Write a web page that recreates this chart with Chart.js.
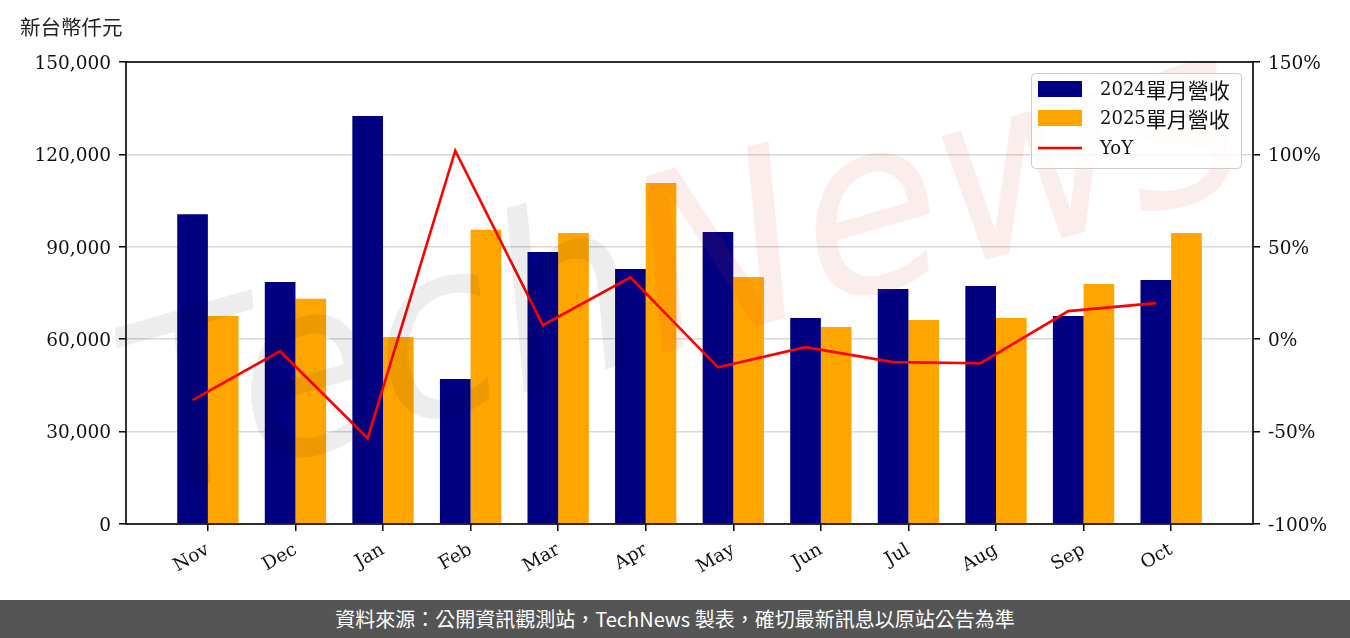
<!DOCTYPE html>
<html><head><meta charset="utf-8">
<script src="https://cdn.jsdelivr.net/npm/chart.js@4.4.1/dist/chart.umd.min.js"></script>
<style>
html,body{margin:0;padding:0;background:#fff;}
#wrap{position:relative;width:1350px;height:600px;}
#footer{width:1350px;height:38px;background:#555555;color:#fff;font-family:'Noto Sans CJK TC',sans-serif;font-size:20px;font-weight:400;text-align:center;line-height:38px;}
</style></head><body>
<div id="wrap"><canvas id="c" width="1350" height="600"></canvas></div>
<div id="footer">資料來源：公開資訊觀測站，TechNews 製表，確切最新訊息以原站公告為準</div>
<script>
const months = ['Nov','Dec','Jan','Feb','Mar','Apr','May','Jun','Jul','Aug','Sep','Oct'];
const rev2024 = [100600, 78600, 132500, 47100, 88300, 82800, 94800, 66900, 76300, 77300, 67500, 79200];
const rev2025 = [67500, 73100, 60700, 95500, 94500, 110700, 80200, 64000, 66200, 66900, 77900, 94500];
const yoy = [-33.0, -6.5, -53.6, 102.0, 7.6, 33.5, -15.2, -4.3, -12.4, -13.0, 15.2, 19.5];
const leftTicks = [0, 30000, 60000, 90000, 120000, 150000];
const rightTicks = [-100, -50, 0, 50, 100, 150];
const seriesLabels = ['2024單月營收', '2025單月營收', 'YoY'];
const unitLabel = '新台幣仟元';

const SERIF = "'DejaVu Serif','Noto Sans CJK TC',serif";
const CJK = "'Noto Sans CJK TC',sans-serif";
const NAVY = '#000080', ORANGE = '#FFA500', RED = '#FF0000';

function drawMixed(ctx, text, x, y) {
  const m = text.match(/^([\x00-\x7F]*)(.*)$/);
  ctx.font = '18px ' + SERIF;
  ctx.fillText(m[1], x, y);
  const w = ctx.measureText(m[1]).width;
  if (m[2]) {
    ctx.font = '21px ' + CJK;
    ctx.fillText(m[2], x + w, y);
  }
}

const framePlugin = {
  id: 'frame',
  afterDatasetsDraw(chart) {
    const {ctx} = chart;
    ctx.save();
    ctx.translate(150, 500);
    ctx.rotate(-16 * Math.PI / 180);
    ctx.font = "italic 240px 'DejaVu Sans',sans-serif";
    const w1 = ctx.measureText('Tech').width, w2 = ctx.measureText('News').width;
    const s = 1150 / (w1 + w2);
    ctx.scale(s, 1);
    ctx.textBaseline = 'alphabetic';
    ctx.fillStyle = 'rgba(0,0,0,0.07)';
    ctx.fillText('Tech', 0, 0);
    ctx.fillStyle = 'rgba(220,60,60,0.09)';
    ctx.fillText('News', w1, 0);
    ctx.restore();
  },
  afterDraw(chart) {
    const {ctx, chartArea: a} = chart;
    ctx.save();
    ctx.strokeStyle = '#000';
    ctx.lineWidth = 1.6;
    ctx.strokeRect(a.left, a.top, a.right - a.left, a.bottom - a.top);
    ctx.fillStyle = '#222';
    ctx.font = "20.5px " + CJK;
    ctx.textBaseline = 'middle';
    ctx.textAlign = 'left';
    ctx.fillText(unitLabel, 20, 27);
    const lx = 1031, ly = 73, lw = 210, lh = 95;
    ctx.fillStyle = 'rgba(255,255,255,0.85)';
    ctx.strokeStyle = '#cccccc';
    ctx.lineWidth = 1;
    ctx.beginPath();
    ctx.roundRect(lx + 0.5, ly + 0.5, lw, lh, 4);
    ctx.fill(); ctx.stroke();
    const rows = [89, 118, 148];
    ctx.fillStyle = NAVY; ctx.fillRect(1038, 81, 44, 16);
    ctx.fillStyle = ORANGE; ctx.fillRect(1038, 110, 44, 16);
    ctx.strokeStyle = RED; ctx.lineWidth = 2.5;
    ctx.beginPath(); ctx.moveTo(1038, 148); ctx.lineTo(1082, 148); ctx.stroke();
    ctx.fillStyle = '#111';
    seriesLabels.forEach((t, i) => drawMixed(ctx, t, 1100, rows[i] + 1));
    ctx.restore();
  }
};

const tickFont = { family: SERIF, size: 18.5 };

const chart = new Chart(document.getElementById('c'), {
  type: 'bar',
  data: {
    datasets: [
      { label: seriesLabels[0], data: rev2024.map((v, i) => ({x: i, y: v})), backgroundColor: NAVY, yAxisID: 'y', categoryPercentage: 0.7, barPercentage: 1.0, order: 2 },
      { label: seriesLabels[1], data: rev2025.map((v, i) => ({x: i, y: v})), backgroundColor: ORANGE, yAxisID: 'y', categoryPercentage: 0.7, barPercentage: 1.0, order: 2 },
      { type: 'line', label: seriesLabels[2], data: yoy.map((v, i) => ({x: i - 0.175, y: v})), borderColor: RED, borderWidth: 2.6, pointRadius: 0, yAxisID: 'y1', tension: 0, order: 1 }
    ]
  },
  options: {
    responsive: false,
    animation: false,
    devicePixelRatio: 1,
    layout: { padding: { top: 62, left: 0, right: 0, bottom: 0 } },
    plugins: { legend: { display: false }, tooltip: { enabled: false }, title: { display: false } },
    scales: {
      x: {
        type: 'linear', min: -0.935, max: 11.935, offset: false,
        afterBuildTicks(s) { s.ticks = months.map((_, i) => ({value: i})); },
        afterFit(s) { s.height = 76; },
        grid: { display: true, drawOnChartArea: false, offset: false, tickColor: '#000', tickLength: 7, lineWidth: 1.5 },
        border: { display: false },
        ticks: { callback: (v) => months[v], minRotation: 30, maxRotation: 30, color: '#111', font: tickFont, padding: 8, autoSkip: false }
      },
      y: {
        position: 'left', min: 0, max: 150000,
        afterBuildTicks(s) { s.ticks = leftTicks.map(v => ({value: v})); },
        afterFit(s) { s.width = 126; },
        grid: { color: '#d8d8d8', lineWidth: 1.5, tickColor: '#000', tickLength: 7 },
        border: { display: false },
        ticks: { callback: (v) => v.toLocaleString('en-US'), color: '#111', font: tickFont, padding: 8, labelOffset: 2 }
      },
      y1: {
        position: 'right', min: -100, max: 150,
        afterBuildTicks(s) { s.ticks = rightTicks.map(v => ({value: v})); },
        afterFit(s) { s.width = 97; },
        grid: { drawOnChartArea: false, tickColor: '#000', tickLength: 7, lineWidth: 1.5 },
        border: { display: false },
        ticks: { callback: (v) => v + '%', color: '#111', font: tickFont, padding: 8, labelOffset: 2 }
      }
    }
  },
  plugins: [framePlugin]
});
</script>
</body></html>
